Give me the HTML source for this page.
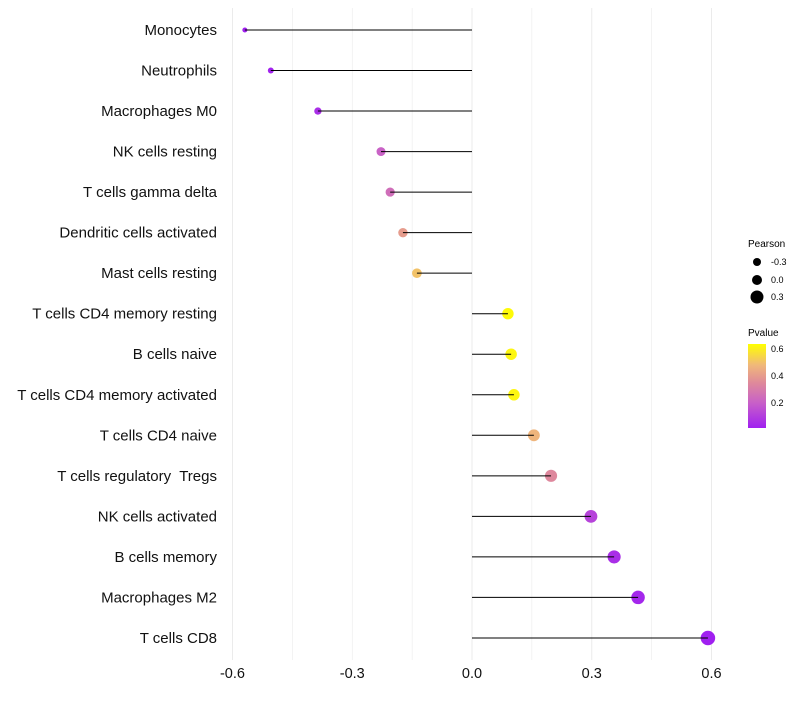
<!DOCTYPE html>
<html><head><meta charset="utf-8"><style>
body{margin:0;background:#fff;font-family:"Liberation Sans",sans-serif}
text{white-space:pre}
</style></head><body>
<svg id="chart" width="800" height="700" xmlns="http://www.w3.org/2000/svg" font-family="Liberation Sans, sans-serif">
<defs><linearGradient id="pg" x1="0" y1="1" x2="0" y2="0">
<stop offset="0" stop-color="#a020f0"/><stop offset="0.3" stop-color="#c860c8"/><stop offset="0.55" stop-color="#e08c98"/><stop offset="0.75" stop-color="#f0b87a"/><stop offset="1" stop-color="#ffff00"/></linearGradient></defs>
<g id="grid"></g>
<g id="dots"></g>
<g id="marks"></g>
<g id="labels"></g>
<g id="xt"></g>
<g font-size="9">
<text x="748" y="247" font-size="10">Pearson</text>
<circle cx="757" cy="262" r="4"/><text x="771" y="265">-0.3</text>
<circle cx="757" cy="280" r="5"/><text x="771" y="283">0.0</text>
<circle cx="757" cy="297" r="6.5"/><text x="771" y="300">0.3</text>
</g>
<g font-size="9">
<text x="748" y="336" font-size="10">Pvalue</text>
<rect x="748" y="344" width="18" height="84" fill="url(#pg)"/>
<text x="771" y="352">0.6</text><text x="771" y="379">0.4</text><text x="771" y="406">0.2</text>
</g>
</svg>
<script>
const categories=["Monocytes","Neutrophils","Macrophages M0","NK cells resting","T cells gamma delta","Dendritic cells activated","Mast cells resting","T cells CD4 memory resting","B cells naive","T cells CD4 memory activated","T cells CD4 naive","T cells regulatory  Tregs","NK cells activated","B cells memory","Macrophages M2","T cells CD8"];
const pearson=[-0.569,-0.504,-0.386,-0.228,-0.205,-0.173,-0.138,0.090,0.098,0.105,0.155,0.198,0.298,0.356,0.416,0.591];
const pvalue=[0.02,0.03,0.06,0.21,0.25,0.40,0.50,0.62,0.61,0.61,0.47,0.34,0.12,0.06,0.04,0.02];
const xTicks=[-0.6,-0.3,0.0,0.3,0.6];
const ns="http://www.w3.org/2000/svg";
const xs=v=>472+v*399.2;
const ys=i=>30+i*40.53;
const stops=[[0,[160,32,240]],[0.3,[200,96,200]],[0.55,[224,140,152]],[0.75,[240,184,122]],[1,[255,255,0]]];
function col(p){const t=Math.max(0,Math.min(1,(p-0.02)/0.61));
for(let k=1;k<stops.length;k++){if(t<=stops[k][0]){const a=stops[k-1],b=stops[k];const u=(t-a[0])/(b[0]-a[0]);
return `rgb(${a[1].map((c,j)=>Math.round(c+(b[1][j]-c)*u)).join(',')})`;}}return 'rgb(255,255,0)';}
function mk(tag,at,par){const e=document.createElementNS(ns,tag);for(const k in at)e.setAttribute(k,at[k]);document.getElementById(par).appendChild(e);return e;}
for(let v=-0.6;v<=0.61;v+=0.15){const g=mk('line',{x1:xs(v),x2:xs(v),y1:8,y2:660,stroke:'#ebebeb','stroke-width':Math.abs((v*100)%30)<1?1:0.6},'grid');

}
categories.forEach((c,i)=>{
const d=mk('circle',{cx:xs(pearson[i]),cy:ys(i),r:Math.sqrt(Math.max(3,29+40*pearson[i])),fill:col(pvalue[i])},'dots');


const l=mk('line',{x1:xs(0),x2:xs(pearson[i]),y1:ys(i),y2:ys(i),stroke:'#000','stroke-width':1},'marks');


const t=mk('text',{x:217,y:ys(i)+5,'text-anchor':'end','font-size':15,fill:'#111'},'labels');t.textContent=c;


});
xTicks.forEach(v=>{const t=mk('text',{x:xs(v),y:678,'text-anchor':'middle','font-size':14.5,fill:'#111'},'xt');t.textContent=v.toFixed(1);

});
</script>
</body></html>
